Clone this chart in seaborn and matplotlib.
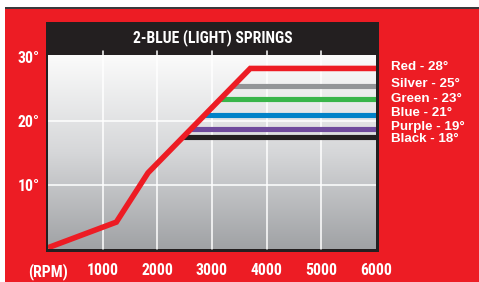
import numpy as np
import pandas as pd
import matplotlib
matplotlib.use("Agg")
import matplotlib.pyplot as plt
import matplotlib.transforms as mtransforms
from matplotlib.colors import LinearSegmentedColormap
from matplotlib.patches import Rectangle
from matplotlib import font_manager
import seaborn as sns

# ---- data ----
title = "2-BLUE (LIGHT) SPRINGS"
curve_rpm = [0, 1250, 1830, 3700, 6000]
curve_deg = [0.2, 4.2, 11.9, 28.2, 28.2]
spring_names = ["Silver", "Green", "Blue", "Purple", "Black"]
spring_levels = [25.5, 23.4, 20.9, 18.8, 17.5]
label_names = ["Red", "Silver", "Green", "Blue", "Purple", "Black"]
label_values = [28, 25, 23, 21, 19, 18]
label_levels = [28.4, 25.7, 23.4, 21.2, 19.0, 17.2]
x_ticks = [0, 1000, 2000, 3000, 4000, 5000, 6000]
x_tick_labels = ["(RPM)", "1000", "2000", "3000", "4000", "5000", "6000"]
y_ticks = [10, 20, 30]
y_tick_labels = ["10°", "20°", "30°"]

# ---- style ----
RED = "#ED1C24"
DARK = "#231F20"
spring_colors = ["#939598", "#39B54A", "#0082C8", "#6F4A9C", "#231F20"]

sns.set_theme(style="white")
avail = {f.name for f in font_manager.fontManager.ttflist}
narrow = "Liberation Sans"
for cand in ["Liberation Sans Narrow", "DejaVu Sans Condensed", "Roboto Condensed",
             "Open Sans Condensed"]:
    if cand in avail:
        narrow = cand
        break
plt.rcParams["font.family"] = ["Liberation Sans", "DejaVu Sans"]

W, H = 479, 282
fig = plt.figure(figsize=(W / 100, H / 100), dpi=100)
fig.patch.set_facecolor(RED)
renderer = fig.canvas.get_renderer()


def fit_size(text_obj, target_px, start):
    text_obj.set_fontsize(start)
    w = text_obj.get_window_extent(renderer).width
    text_obj.set_fontsize(start * target_px / w)


def px_rect(x0, y0, x1, y1, color, z):
    fig.add_artist(Rectangle((x0 / W, 1 - y1 / H), (x1 - x0) / W, (y1 - y0) / H,
                             transform=fig.transFigure, facecolor=color,
                             edgecolor="none", zorder=z))

# white margins and dark top rule
px_rect(0, 0, W, 7, "white", -5)
px_rect(0, 0, 5, H, "white", -5)
px_rect(5, 7, W, 9, "#3a3a3c", -4)
# black frame behind plot
px_rect(46, 22, 379, 252, DARK, -3)

ax = fig.add_axes([48 / W, 1 - 249 / H, 328 / W, 194 / H])
ax.set_xlim(0, 6000)
ax.set_ylim(0, 30.3)

# gradient background
cmap = LinearSegmentedColormap.from_list("bg", ["#a0a2a5", "#d6d7d9", "#fbfbfb"])
grad = np.linspace(0, 1, 256).reshape(-1, 1)
ax.imshow(grad, cmap=cmap, aspect="auto", origin="lower",
          extent=[0, 6000, 0, 30.3], zorder=0)

# grid
for x in x_ticks[1:-1]:
    ax.axvline(x, ymax=1.02, color="white", lw=1.1, zorder=1, clip_on=False)
for y in y_ticks[:-1]:
    ax.axhline(y, color="white", lw=1.1, zorder=1)

# spring lines starting at the curve
for lvl, col in zip(spring_levels, spring_colors):
    start = np.interp(lvl, curve_deg[:4], curve_rpm[:4])
    ax.hlines(lvl, start, 6000, color=col, lw=3.7, zorder=2)

df = pd.DataFrame({"rpm": curve_rpm, "deg": curve_deg})
sns.lineplot(data=df, x="rpm", y="deg", ax=ax, color=RED, lw=4.0,
             zorder=3, sort=False)
for ln in ax.lines[-1:]:
    ln.set_solid_joinstyle("miter")
    ln.set_solid_capstyle("butt")

ax.set_xlabel("")
ax.set_ylabel("")
ax.set_xticks(x_ticks)
ax.set_xticklabels(x_tick_labels)
ax.set_yticks(y_ticks)
ax.set_yticklabels(y_tick_labels)
ax.tick_params(axis="both", length=0, colors="white")
ax.tick_params(axis="x", pad=10)
ax.tick_params(axis="y", pad=6)
for s in ax.spines.values():
    s.set_visible(False)

# measure a digit label to size tick labels
probe = fig.text(0, 0, "1000", fontweight="bold", family=[narrow, "DejaVu Sans"])
fit_size(probe, 32, 10)
tick_fs = min(probe.get_fontsize(), 12)
probe.remove()
for lab in ax.get_xticklabels() + ax.get_yticklabels():
    lab.set_fontfamily([narrow, "DejaVu Sans"])
    lab.set_fontweight("bold")
    lab.set_fontsize(tick_fs)
    lab.set_color("white")

# right-side labels
trans = mtransforms.blended_transform_factory(fig.transFigure, ax.transData)
for name, val, lvl in zip(label_names, label_values, label_levels):
    t = ax.text(391 / W, lvl, f"{name} - {val}°", transform=trans, color="white",
                fontsize=9.6, fontweight="bold", va="center", ha="left",
                clip_on=False, family=["Liberation Sans", "DejaVu Sans"])

# title
tt = fig.text(212.5 / W, 1 - 37.5 / H, title, color="white", fontsize=11,
              fontweight="bold", ha="center", va="center",
              family=[narrow, "DejaVu Sans"])
fit_size(tt, 160, 11)

fig.savefig("out.png", dpi=100, facecolor=fig.get_facecolor())
